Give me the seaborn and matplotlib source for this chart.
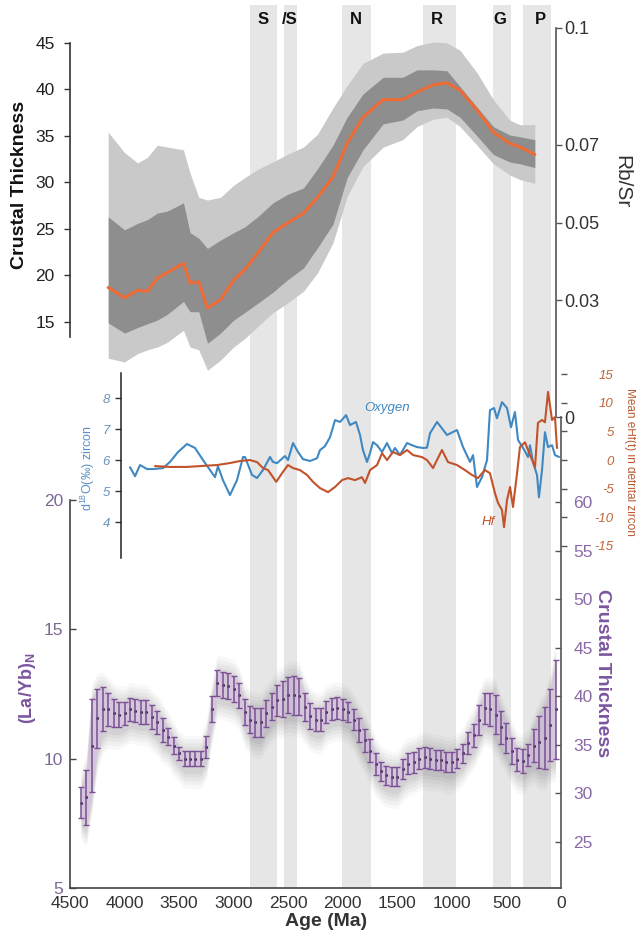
import matplotlib
matplotlib.use('Agg')
import matplotlib.pyplot as plt
import seaborn as sns
import pandas as pd

sns.set_style('white')
plt.rcParams['font.family'] = ['Liberation Sans', 'DejaVu Sans']
plt.rcParams['mathtext.fontset'] = 'custom'
plt.rcParams['mathtext.rm'] = 'Liberation Sans'
plt.rcParams['mathtext.bf'] = 'Liberation Sans:bold'
plt.rcParams['axes.unicode_minus'] = False

# ---------------- DATA ----------------
# vertical bands (age ranges, Ma) and labels
band_start = [2850, 2539, 2007, 1265, 623, 348]
band_end = [2603, 2420, 1741, 962, 458, 92]
band_label = ['S', '/S', 'N', 'R', 'G', 'P']
band_label_age = [2731, 2484, 1879, 1136, 559, 192]

# top panel: crustal thickness model (median and uncertainty bands)
top_age = [4150, 4000, 3880, 3790, 3700, 3610, 3460, 3400, 3320, 3240, 3120, 3000,
           2900, 2780, 2640, 2510, 2360, 2230, 2090, 1960, 1815, 1630, 1450, 1320,
           1170, 1045, 925, 770, 620, 470, 375, 240]
top_median = [18.7, 17.6, 18.4, 18.3, 19.7, 20.3, 21.3, 19.2, 19.3, 16.5, 17.4, 19.5,
              20.6, 22.4, 24.6, 25.6, 26.7, 28.4, 30.6, 34.2, 37.0, 38.9, 38.9, 39.7,
              40.5, 40.7, 39.9, 37.8, 35.4, 34.2, 33.8, 33.0]
top_inner_hi = [26.3, 24.9, 25.6, 26.0, 26.7, 26.9, 27.8, 24.6, 24.0, 22.9, 23.8, 24.6,
                25.2, 26.3, 27.8, 28.7, 29.4, 31.5, 34.0, 37.0, 39.5, 41.3, 41.3, 42.1,
                42.1, 42.0, 40.3, 38.1, 36.0, 35.1, 34.9, 34.6]
top_inner_lo = [14.9, 13.8, 14.4, 14.8, 15.2, 15.8, 17.2, 16.1, 16.1, 12.7, 13.8, 15.2,
                16.0, 17.0, 18.2, 19.5, 20.8, 23.0, 25.5, 30.5, 33.5, 36.3, 36.7, 37.7,
                38.0, 37.9, 37.0, 35.0, 33.0, 32.2, 32.0, 31.6]
top_outer_hi = [35.4, 33.2, 32.1, 32.7, 34.0, 33.8, 33.5, 31.0, 28.4, 28.1, 28.4, 29.7,
                30.5, 31.4, 32.2, 33.0, 33.8, 35.2, 38.0, 40.4, 42.8, 43.9, 44.0, 44.7,
                45.1, 45.0, 44.2, 41.8, 38.9, 36.7, 36.2, 36.2]
top_outer_lo = [11.1, 10.7, 11.6, 12.0, 12.3, 12.8, 14.1, 12.3, 12.0, 9.8, 10.9, 12.3,
                13.2, 14.5, 16.0, 17.0, 18.3, 20.3, 23.5, 28.5, 31.7, 33.8, 34.6, 36.0,
                36.8, 37.0, 36.0, 34.0, 32.0, 30.8, 30.3, 29.9]

# middle panel: oxygen isotopes
oxy_age = [3950, 3904, 3858, 3794, 3739, 3648, 3584, 3510, 3428, 3354, 3281, 3217,
           3171, 3144, 3098, 3034, 2970, 2914, 2896, 2832, 2786, 2731, 2667, 2640,
           2603, 2530, 2502, 2456, 2410, 2365, 2300, 2236, 2209, 2163, 2117, 2071,
           2025, 1970, 1934, 1879, 1842, 1815, 1778, 1750, 1723, 1686, 1640, 1595,
           1549, 1521, 1476, 1411, 1366, 1320, 1265, 1228, 1200, 1136, 1045, 953,
           898, 834, 806, 770, 724, 678, 651, 614, 587, 541, 495, 458, 422, 394,
           348, 302, 284, 257, 220, 202, 174, 147, 119, 82, 55, 18]
oxy_val = [5.77, 5.48, 5.84, 5.71, 5.71, 5.74, 5.94, 6.26, 6.52, 6.39, 6.0, 5.68,
           5.45, 5.8, 5.35, 4.87, 5.35, 6.1, 6.1, 5.52, 5.42, 5.68, 6.1, 5.94,
           5.9, 6.13, 6.0, 6.55, 6.26, 6.03, 5.97, 6.06, 6.32, 6.45, 6.74, 7.29,
           7.23, 7.45, 7.13, 7.23, 6.81, 6.32, 5.94, 6.23, 6.58, 6.48, 6.26, 6.55,
           6.23, 6.39, 6.16, 6.55, 6.48, 6.42, 6.39, 6.4, 6.87, 7.23, 6.81, 6.97,
           6.42, 5.94, 6.16, 5.13, 5.45, 6.0, 7.61, 7.68, 7.35, 7.87, 7.68, 7.06,
           7.55, 6.65, 6.39, 6.1, 6.48, 5.94, 5.52, 4.8, 5.68, 6.9, 6.42, 6.48,
           6.16, 6.1]

# middle panel: Hf isotopes
hf_age = [3721, 3584, 3428, 3309, 3153, 3034, 2942, 2850, 2786, 2731, 2685, 2610,
          2557, 2502, 2456, 2392, 2328, 2273, 2209, 2135, 2071, 2007, 1952, 1888,
          1824, 1796, 1750, 1686, 1640, 1595, 1540, 1476, 1411, 1356, 1274, 1228,
          1173, 1091, 1036, 953, 880, 816, 761, 697, 651, 605, 577, 541, 522, 495,
          467, 440, 403, 376, 330, 284, 238, 211, 174, 147, 119, 82, 55, 37]
hf_val = [-1.05, -1.2, -1.2, -1.05, -0.87, -0.52, -0.17, 0.0, -0.35, -1.4, -1.75, -3.8,
          -2.3, -0.87, -1.4, -1.75, -2.6, -3.8, -4.9, -5.6, -4.7, -3.5, -3.15, -3.5,
          -3.0, -4.0, -1.75, -0.87, 1.2, 0.0, 1.4, 0.87, 1.75, 0.87, 0.52, 0.0,
          -1.4, 1.75, -0.35, -0.87, -1.75, -2.6, -3.15, -1.75, -2.3, -5.8, -7.5, -8.7,
          -11.7, -7.0, -4.7, -8.2, -2.3, 2.3, 3.1, 0.87, -1.2, 6.5, 7.0, 6.6, 11.9,
          7.0, 7.5, 2.1]

# bottom panel: (La/Yb)N with error bars
lyb_age = [4400, 4350, 4300, 4250, 4200, 4150, 4100, 4050, 4000, 3950, 3900, 3850,
           3800, 3750, 3700, 3650, 3600, 3550, 3500, 3450, 3400, 3350, 3300, 3250,
           3200, 3150, 3100, 3050, 3000, 2950, 2900, 2850, 2800, 2750, 2700, 2650,
           2600, 2550, 2500, 2450, 2400, 2350, 2300, 2250, 2200, 2150, 2100, 2050,
           2000, 1950, 1900, 1850, 1800, 1750, 1700, 1650, 1600, 1550, 1500, 1450,
           1400, 1350, 1300, 1250, 1200, 1150, 1100, 1050, 1000, 950, 900, 850,
           800, 750, 700, 650, 600, 550, 500, 450, 400, 350, 300, 250, 200, 150,
           100, 50]
lyb_val = [8.3, 8.5, 10.5, 11.55, 11.9, 11.9, 11.75, 11.7, 11.75, 11.9, 11.85, 11.8,
           11.8, 11.6, 11.4, 11.1, 10.85, 10.5, 10.2, 10.0, 10.0, 10.0, 10.0, 10.45,
           11.9, 12.9, 12.85, 12.8, 12.7, 12.45, 11.8, 11.5, 11.4, 11.4, 11.75, 12.0,
           12.25, 12.3, 12.45, 12.45, 12.4, 12.0, 11.65, 11.5, 11.5, 11.8, 11.9, 11.95,
           11.9, 11.8, 11.5, 11.1, 10.7, 10.3, 9.8, 9.5, 9.35, 9.3, 9.3, 9.6,
           9.8, 9.85, 10.0, 10.05, 10.0, 9.95, 9.95, 9.87, 9.87, 10.0, 10.2, 10.6,
           10.9, 11.5, 11.95, 11.9, 11.7, 11.2, 10.8, 10.3, 9.95, 9.9, 10.15, 10.5,
           10.65, 10.8, 11.3, 11.9]
lyb_err = [0.6, 1.05, 1.8, 1.15, 0.85, 0.65, 0.55, 0.5, 0.45, 0.45, 0.45, 0.45,
           0.45, 0.45, 0.45, 0.45, 0.32, 0.33, 0.26, 0.3, 0.3, 0.3, 0.3, 0.42,
           0.5, 0.5, 0.5, 0.5, 0.5, 0.48, 0.5, 0.52, 0.55, 0.55, 0.52, 0.52,
           0.6, 0.68, 0.7, 0.75, 0.72, 0.55, 0.5, 0.45, 0.45, 0.42, 0.42, 0.42,
           0.4, 0.4, 0.4, 0.45, 0.45, 0.45, 0.42, 0.38, 0.38, 0.38, 0.38, 0.4,
           0.4, 0.4, 0.4, 0.4, 0.4, 0.38, 0.38, 0.38, 0.38, 0.38, 0.38, 0.42,
           0.45, 0.58, 0.6, 0.64, 0.74, 0.64, 0.58, 0.5, 0.45, 0.45, 0.42, 0.65,
           1.0, 1.2, 1.4, 1.9]

# tick labels
age_ticks = [4500, 4250, 4000, 3750, 3500, 3250, 3000, 2750, 2500, 2250, 2000, 1750,
             1500, 1250, 1000, 750, 500, 250, 0]
age_ticklabels = ['4500', '', '4000', '', '3500', '', '3000', '', '2500', '', '2000', '',
                  '1500', '', '1000', '', '500', '', '0']
ct_top_ticks = [15, 20, 25, 30, 35, 40, 45]
rbsr_ticks = [0.0, 0.03, 0.05, 0.07, 0.1]
rbsr_ticklabels = ['0', '0.03', '0.05', '0.07', '0.1']
oxy_ticks = [4, 5, 6, 7, 8]
hf_ticks = [15, 10, 5, 0, -5, -10, -15]
lyb_ticks = [5, 10, 15, 20]
ct_bot_ticks = [25, 30, 35, 40, 45, 50, 55, 60]

# ---------------- STYLE ----------------
W, H = 636, 939
XLIM = (4500, 0)
BAND_C = '#e6e6e6'
OUTER_C = '#c9c9c9'
INNER_C = '#8e8e8e'
ORANGE = '#ee6b35'
BLUE = '#3f88c2'
HFC = '#c2522b'
PURPLE = '#7b55a0'
PURPLE_T = '#8a6aa6'
DARK = '#333333'

fig = plt.figure(figsize=(W / 100, H / 100), dpi=100)


def rect(x0, y0, x1, y1):
    return [x0 / W, 1 - y1 / H, (x1 - x0) / W, (y1 - y0) / H]


def ftxt(x, y, s, **kw):
    fig.text(x / W, 1 - y / H, s, ha=kw.pop('ha', 'center'), va=kw.pop('va', 'center'), **kw)


def clear(ax):
    for sp in ax.spines.values():
        sp.set_visible(False)


# background with vertical bands
ax_bg = fig.add_axes(rect(70, 5, 561, 888))
ax_bg.set_xlim(XLIM)
ax_bg.set_ylim(888, 5)
ax_bg.axis('off')
for a0, a1 in zip(band_start, band_end):
    ax_bg.axvspan(a0, a1, color=BAND_C, lw=0)
for lab, a in zip(band_label, band_label_age):
    ax_bg.text(a, 20, lab, ha='center', va='center', fontsize=12, fontweight='bold', color='#111111')

# ---------------- TOP ----------------
ax_top = fig.add_axes(rect(70, 28, 561, 417), facecolor='none')
ax_top.set_xlim(XLIM)
ax_top.set_ylim(4.78, 46.6)
clear(ax_top)
ax_top.fill_between(top_age, top_outer_lo, top_outer_hi, color=OUTER_C, lw=0)
ax_top.fill_between(top_age, top_inner_lo, top_inner_hi, color=INNER_C, lw=0)
top_df = pd.DataFrame({'age': top_age, 'ct': top_median})
sns.lineplot(data=top_df, x='age', y='ct', ax=ax_top, color=ORANGE, lw=2.2)
ax_top.spines['left'].set_visible(True)
ax_top.spines['left'].set_bounds(13.4, 45)
ax_top.spines['left'].set_color(DARK)
ax_top.spines['left'].set_linewidth(1.2)
ax_top.set_yticks(ct_top_ticks)
ax_top.tick_params(axis='y', direction='out', length=4, width=1, color=DARK,
                   labelsize=12.5, labelcolor='#222222', pad=7)
ax_top.set_xticks([])
ax_top.set_xlabel('')
ax_top.set_ylabel('')

ax_rb = ax_top.twinx()
ax_rb.set_ylim(0, 0.1)
clear(ax_rb)
ax_rb.spines['right'].set_visible(True)
ax_rb.spines['right'].set_position(('data', 45))
ax_rb.spines['right'].set_color('#555555')
ax_rb.spines['right'].set_linewidth(1.2)
ax_rb.set_yticks(rbsr_ticks)
ax_rb.set_yticklabels(rbsr_ticklabels)
ax_rb.tick_params(axis='y', direction='out', length=4, width=1, color='#555555',
                  labelsize=13, labelcolor='#333333', pad=2)

# ---------------- MIDDLE ----------------
ax_mid = fig.add_axes(rect(70, 373, 561, 558), facecolor='none')
ax_mid.set_xlim(XLIM)
ax_mid.set_ylim(2.84, 8.81)
clear(ax_mid)
oxy_df = pd.DataFrame({'age': oxy_age, 'o': oxy_val})
sns.lineplot(data=oxy_df, x='age', y='o', ax=ax_mid, color=BLUE, lw=1.5)
ax_mid.spines['left'].set_visible(True)
ax_mid.spines['left'].set_position(('data', 4033))
ax_mid.spines['left'].set_color('#222222')
ax_mid.spines['left'].set_linewidth(1.1)
ax_mid.set_yticks(oxy_ticks)
ax_mid.tick_params(axis='y', direction='out', length=4, width=1, color='#333333',
                   labelsize=9.5, labelcolor='#6b93bd', pad=4)
for t in ax_mid.get_yticklabels():
    t.set_fontstyle('italic')
ax_mid.set_xticks([])
ax_mid.set_xlabel('')
ax_mid.set_ylabel('')

ax_hf = ax_mid.twinx()
ax_hf.set_ylim(-17.1, 15.2)
clear(ax_hf)
hf_df = pd.DataFrame({'age': hf_age, 'hf': hf_val})
sns.lineplot(data=hf_df, x='age', y='hf', ax=ax_hf, color=HFC, lw=1.5)
ax_hf.set_ylabel('')
ax_hf.set_yticks(hf_ticks)
ax_hf.tick_params(axis='y', direction='out', length=4, width=1, color='#555555',
                  labelsize=9.5, labelcolor='#c0643a', pad=34)
for t in ax_hf.get_yticklabels():
    t.set_fontstyle('italic')
    t.set_horizontalalignment('right')

# ---------------- BOTTOM ----------------
ax_bot = fig.add_axes(rect(70, 417, 561, 888), facecolor='none')
ax_bot.set_xlim(XLIM)
ax_bot.set_ylim(5, 23.19)
clear(ax_bot)
lo = [v - e for v, e in zip(lyb_val, lyb_err)]
hi = [v + e for v, e in zip(lyb_val, lyb_err)]
for pad, al in [(0.7, 0.04), (0.55, 0.05), (0.4, 0.06), (0.25, 0.07), (0.12, 0.08)]:
    ax_bot.fill_between(lyb_age, [l - pad - 0.15 for l in lo], [h + pad - 0.1 for h in hi],
                        color='#5e5a62', alpha=al, lw=0)
ax_bot.fill_between(lyb_age, lo, hi, color='#d6bde2', alpha=0.55, lw=0)
ax_bot.errorbar(lyb_age, lyb_val, yerr=lyb_err, fmt='none', ecolor='#7a4f93',
                elinewidth=1.1, capsize=2.3, capthick=1.0)
lyb_df = pd.DataFrame({'age': lyb_age, 'v': lyb_val})
sns.scatterplot(data=lyb_df, x='age', y='v', ax=ax_bot, s=5, color='#3d2a48', linewidth=0)
ax_bot.spines['left'].set_visible(True)
ax_bot.spines['left'].set_bounds(5, 20)
ax_bot.spines['bottom'].set_visible(True)
for s in ['left', 'bottom']:
    ax_bot.spines[s].set_color('#444444')
    ax_bot.spines[s].set_linewidth(1.2)
ax_bot.set_yticks(lyb_ticks)
ax_bot.tick_params(axis='y', direction='in', length=4, width=1, color='#444444',
                   labelsize=12.5, labelcolor='#7d6893', pad=5)
ax_bot.set_xticks(age_ticks)
ax_bot.set_xticklabels(age_ticklabels)
ax_bot.tick_params(axis='x', direction='in', length=4, width=1, color='#444444',
                   labelsize=12.5, labelcolor='#333333', pad=6)
ax_bot.set_xlabel('')
ax_bot.set_ylabel('')

ax_ct = ax_bot.twinx()
ax_ct.set_ylim(20.26, 68.75)
clear(ax_ct)
ax_ct.spines['right'].set_visible(True)
ax_ct.spines['right'].set_color('#555555')
ax_ct.spines['right'].set_linewidth(1.2)
ax_ct.set_yticks(ct_bot_ticks)
ax_ct.tick_params(axis='y', direction='in', length=4, width=1, color='#555555',
                  labelsize=12.5, labelcolor=PURPLE_T, pad=9)

# ---------------- LABELS ----------------
ftxt(20, 185, 'Crustal Thickness', rotation=90, fontsize=14, fontweight='bold', color='#111111')
ftxt(622, 182, 'Rb/Sr', rotation=270, fontsize=15, color='#333333')
ftxt(88, 468, 'd$^{18}$O(‰) zircon', rotation=90, fontsize=9, color='#5b8fc2')
ftxt(630, 462, 'Mean eHf(t) in detrital zircon', rotation=270, fontsize=8.5, color='#b9592f')
ftxt(387, 408, 'Oxygen', fontsize=9.5, style='italic', color=BLUE)
ftxt(488, 522, 'Hf', fontsize=9.5, style='italic', color=HFC)
ftxt(27, 688, r'(La/Yb)$_\mathbf{N}$', rotation=90, fontsize=13, fontweight='bold', color=PURPLE)
ftxt(603, 673, 'Crustal Thickness', rotation=270, fontsize=14, fontweight='bold', color=PURPLE)
ftxt(326, 922, 'Age (Ma)', fontsize=14, fontweight='bold', color='#333333')

fig.savefig('out.png', dpi=100)
